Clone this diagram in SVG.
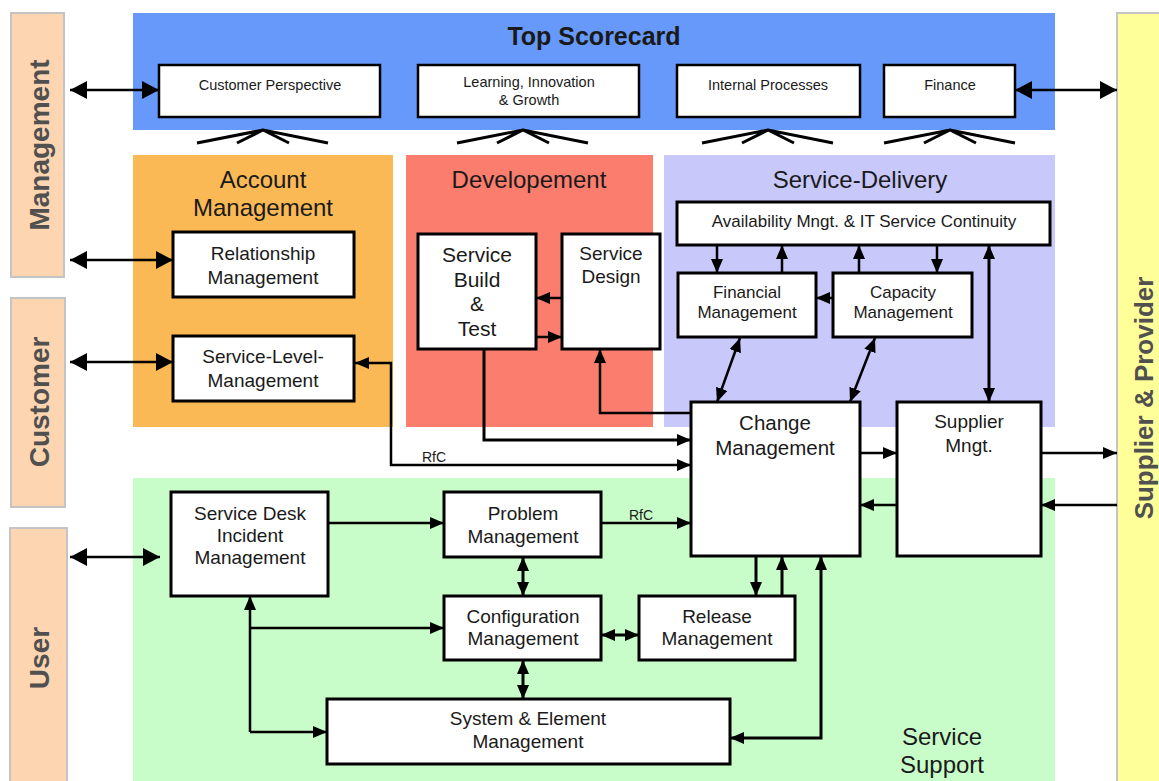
<svg xmlns="http://www.w3.org/2000/svg" width="1159" height="781" viewBox="0 0 1159 781">
<style>
text{font-family:"Liberation Sans",Arial,sans-serif;fill:#1a1a1a;text-anchor:middle}
.side{font-weight:bold;font-size:28px;fill:#505050}
.bar{fill:#fdd5b0;stroke:#c4c4c4;stroke-width:2}
.box{fill:#fff;stroke:#000;stroke-width:3}
.sbox{fill:#fff;stroke:#000;stroke-width:2.5}
.sc{font-size:14.5px}
.ttl{font-size:24px}
.t19{font-size:19px}
.t17{font-size:17px}
.c{fill:none;stroke:#000;stroke-width:2.5}
.ck{fill:none;stroke:#000;stroke-width:3}
.a1{marker-end:url(#ah)}
.a2{marker-start:url(#ah);marker-end:url(#ah)}
.b2{marker-start:url(#big);marker-end:url(#big)}
.fan{stroke:#000;stroke-width:3;fill:none}
</style>
<defs>
<marker id="ah" viewBox="0 0 14 12" refX="14" refY="6" markerWidth="14" markerHeight="12" markerUnits="userSpaceOnUse" orient="auto-start-reverse"><path d="M0,0 L14,6 L0,12 z" fill="#000"/></marker>
<marker id="big" viewBox="0 0 17 18" refX="17" refY="9" markerWidth="17" markerHeight="18" markerUnits="userSpaceOnUse" orient="auto-start-reverse"><path d="M0,0 L17,9 L0,18 z" fill="#000"/></marker>
</defs>

<g id="areas">
<rect x="133" y="13" width="922" height="117" fill="#6699fa"/>
<rect x="133" y="155" width="260" height="272" fill="#fbb955"/>
<rect x="406" y="155" width="247" height="272" fill="#fa7d6e"/>
<rect x="664" y="155" width="391" height="272" fill="#c8c8fa"/>
<rect x="133" y="478" width="922" height="303" fill="#c8fcc8"/>
<text x="594" y="45" style="font-weight:bold;font-size:25px">Top Scorecard</text>
<text class="ttl" x="263" y="188">Account</text>
<text class="ttl" x="263" y="216">Management</text>
<text class="ttl" x="529" y="188">Developement</text>
<text class="ttl" x="860" y="188">Service-Delivery</text>
<text class="ttl" x="942" y="745">Service</text>
<text class="ttl" x="942" y="773">Support</text>
</g>

<g id="management"><rect class="bar" x="11" y="13" width="53" height="264"/><text class="side" transform="translate(49,145) rotate(-90)">Management</text></g>
<g id="customer"><rect class="bar" x="11" y="298" width="54" height="209"/><text class="side" transform="translate(49,402) rotate(-90)">Customer</text></g>
<g id="user"><rect class="bar" x="10" y="528" width="57" height="260"/><text class="side" transform="translate(49,658) rotate(-90)">User</text></g>
<g id="supplier-provider"><rect x="1117" y="13" width="50" height="775" fill="#ffff99" stroke="#c4c4c4" stroke-width="2"/><text class="side" style="font-size:26px" transform="translate(1153,398) rotate(-90)">Supplier &amp; Provider</text></g>

<g id="customer-perspective"><rect class="sbox" x="159" y="65" width="221" height="52"/><text class="sc" x="270" y="90">Customer Perspective</text></g>
<g id="learning"><rect class="sbox" x="418" y="65" width="221" height="52"/><text class="sc" x="529" y="87">Learning, Innovation</text><text class="sc" x="529" y="105">&amp; Growth</text></g>
<g id="internal-processes"><rect class="sbox" x="677" y="65" width="183" height="52"/><text class="sc" x="768" y="90">Internal Processes</text></g>
<g id="finance"><rect class="sbox" x="884" y="65" width="131" height="52"/><text class="sc" x="950" y="90">Finance</text></g>

<g id="fans">
<path class="fan" d="M197,143 L263,130 L328,143 M237,143 L263,130 L289,143"/>
<path class="fan" d="M457,143 L523,130 L588,143 M497,143 L523,130 L549,143"/>
<path class="fan" d="M702,143 L768,130 L833,143 M742,143 L768,130 L794,143"/>
<path class="fan" d="M884,143 L950,130 L1015,143 M924,143 L950,130 L976,143"/>
</g>

<g id="relationship-management"><rect class="box" x="173" y="232" width="181" height="65"/><text class="t19" x="263" y="260">Relationship</text><text class="t19" x="263" y="284">Management</text></g>
<g id="service-level-management"><rect class="box" x="173" y="336" width="181" height="65"/><text class="t19" x="263" y="363">Service-Level-</text><text class="t19" x="263" y="387">Management</text></g>

<g id="service-build-test"><rect class="box" x="418" y="234" width="118" height="115"/><text x="477" y="262" style="font-size:21px">Service</text><text x="477" y="287" style="font-size:21px">Build</text><text x="477" y="311" style="font-size:21px">&amp;</text><text x="477" y="336" style="font-size:21px">Test</text></g>
<g id="service-design"><rect class="box" x="562" y="234" width="98" height="115"/><text class="t19" x="611" y="260">Service</text><text class="t19" x="611" y="283">Design</text></g>

<g id="availability"><rect class="box" x="677" y="202" width="373" height="43"/><text class="t17" x="864" y="227">Availability Mngt. &amp; IT Service Continuity</text></g>
<g id="financial-management"><rect class="box" x="678" y="273" width="138" height="64"/><text class="t17" x="747" y="298">Financial</text><text class="t17" x="747" y="318">Management</text></g>
<g id="capacity-management"><rect class="box" x="833" y="273" width="139" height="64"/><text class="t17" x="903" y="298">Capacity</text><text class="t17" x="903" y="318">Management</text></g>

<g id="change-management"><rect class="box" x="691" y="402" width="169" height="154"/><text x="775" y="430" style="font-size:20.5px">Change</text><text x="775" y="455" style="font-size:20.5px">Management</text></g>
<g id="supplier-mngt"><rect class="box" x="897" y="402" width="144" height="154"/><text class="t19" x="969" y="428">Supplier</text><text class="t19" x="969" y="452">Mngt.</text></g>

<g id="service-desk"><rect class="box" x="171" y="492" width="157" height="104"/><text class="t19" x="250" y="520">Service Desk</text><text class="t19" x="250" y="542">Incident</text><text class="t19" x="250" y="564">Management</text></g>
<g id="problem-management"><rect class="box" x="444" y="492" width="157" height="65"/><text class="t19" x="523" y="520">Problem</text><text class="t19" x="523" y="543">Management</text></g>
<g id="configuration-management"><rect class="box" x="444" y="596" width="157" height="64"/><text class="t19" x="523" y="623">Configuration</text><text class="t19" x="523" y="645">Management</text></g>
<g id="release-management"><rect class="box" x="639" y="596" width="156" height="64"/><text class="t19" x="717" y="623">Release</text><text class="t19" x="717" y="645">Management</text></g>
<g id="system-element-management"><rect class="box" x="327" y="699" width="403" height="65"/><text class="t19" x="528" y="725">System &amp; Element</text><text class="t19" x="528" y="748">Management</text></g>

<g id="connectors">
<path class="c b2" d="M70,90 H159"/>
<path class="c b2" d="M1015,90 H1117"/>
<path class="c b2" d="M70,260 H173"/>
<path class="c b2" d="M70,362 H173"/>
<path class="c b2" d="M70,557 H160"/>
<path class="c a2" d="M355,363 H391 V465 H691"/>
<text x="434" y="462" style="font-size:14px">RfC</text>
<path class="ck a1" d="M484,349 V440 H691"/>
<path class="c a1" d="M691,413 H600 V349"/>
<path class="c a1" d="M562,298 H536"/>
<path class="c a1" d="M536,337 H562"/>
<path class="c a1" d="M717,245 V273"/>
<path class="c a1" d="M782,273 V245"/>
<path class="c a1" d="M859,273 V245"/>
<path class="c a1" d="M937,245 V273"/>
<path class="c a1" d="M833,298 H816"/>
<path class="ck a2" d="M989,245 V402"/>
<path class="c a2" d="M740,338 L717,402"/>
<path class="c a2" d="M875,338 L850,402"/>
<path class="c a1" d="M860,453 H897"/>
<path class="c a1" d="M897,505 H860"/>
<path class="c a1" d="M1041,453 H1117"/>
<path class="c a1" d="M1117,505 H1041"/>
<path class="c a1" d="M328,523 H444"/>
<path class="c a1" d="M601,523 H691"/>
<text x="641" y="520" style="font-size:14px">RfC</text>
<path class="ck a2" d="M523,557 V596"/>
<path class="ck a2" d="M523,660 V699"/>
<path class="ck a2" d="M601,635 H639"/>
<path class="ck a1" d="M756,556 V596"/>
<path class="ck a1" d="M782,596 V556"/>
<path class="ck a2" d="M730,738 H821 V556"/>
<path class="c a1" d="M250,732 V596"/>
<path class="c a1" d="M250,628 H444"/>
<path class="c a1" d="M250,732 H327"/>
</g>
</svg>
